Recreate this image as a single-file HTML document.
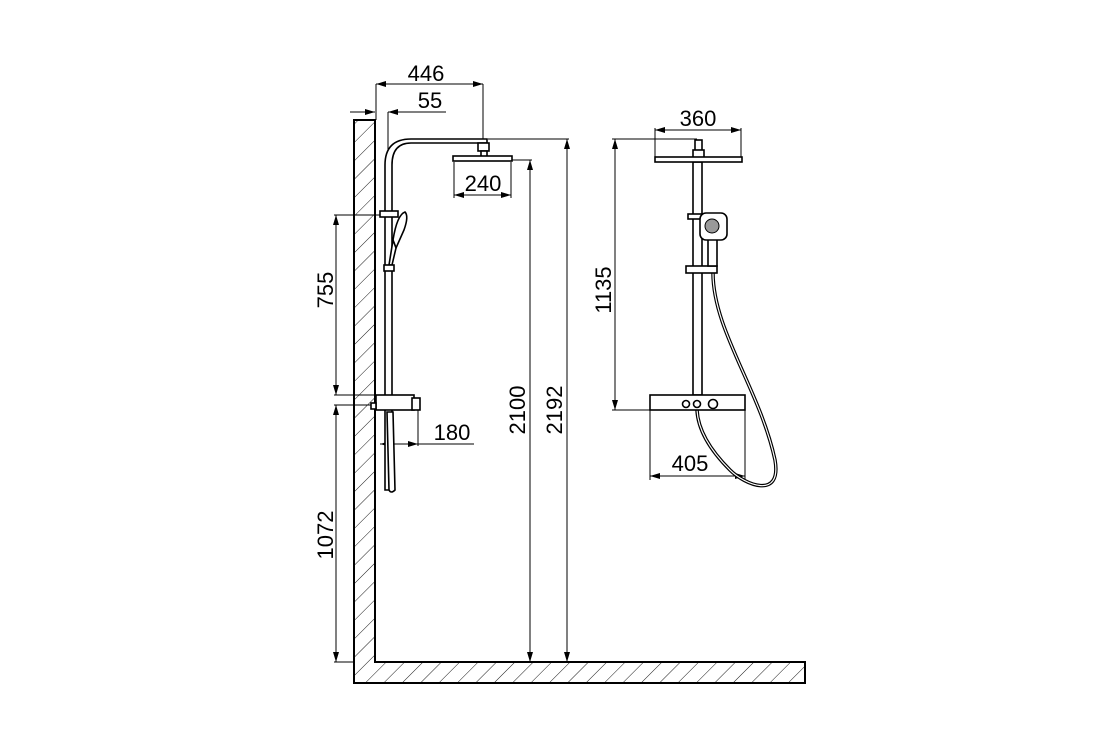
<!DOCTYPE html>
<html><head><style>body{margin:0;background:#fff}svg{display:block}</style></head><body>
<svg width="1120" height="750" viewBox="0 0 1120 750" xmlns="http://www.w3.org/2000/svg" font-family="Liberation Sans, sans-serif">
<defs>
<pattern id="h" patternUnits="userSpaceOnUse" width="13" height="13" patternTransform="rotate(45)">
<line x1="0" y1="0" x2="0" y2="13" stroke="#000" stroke-width="0.9"/>
</pattern>
<marker id="a" viewBox="0 0 10 6" refX="10" refY="3" markerWidth="10" markerHeight="6" orient="auto-start-reverse" markerUnits="userSpaceOnUse"><path d="M0,0L10,3L0,6z" fill="#000"/></marker>
</defs>
<path d="M354,120H375V662H805V683H354Z" fill="url(#h)" stroke="#000" stroke-width="2"/>
<g stroke="#000" stroke-width="1" fill="none">
<line x1="376" y1="84" x2="376" y2="120"/>
<line x1="376" y1="84" x2="483" y2="84" marker-start="url(#a)" marker-end="url(#a)"/>
<line x1="483" y1="84" x2="483" y2="140"/>
<line x1="388" y1="112" x2="388" y2="150"/>
<line x1="388" y1="112" x2="446" y2="112" marker-start="url(#a)"/>
<line x1="350" y1="112" x2="375" y2="112" marker-end="url(#a)"/>
<line x1="454" y1="162" x2="454" y2="198"/><line x1="511" y1="162" x2="511" y2="198"/>
<line x1="454" y1="195" x2="511" y2="195" marker-start="url(#a)" marker-end="url(#a)"/>
<line x1="512" y1="160" x2="532" y2="160"/>
<line x1="530" y1="160" x2="530" y2="662" marker-start="url(#a)" marker-end="url(#a)"/>
<line x1="488" y1="139" x2="569" y2="139"/>
<line x1="567" y1="139" x2="567" y2="662" marker-start="url(#a)" marker-end="url(#a)"/>
<line x1="334" y1="215" x2="388" y2="215"/>
<line x1="336" y1="215" x2="336" y2="395" marker-start="url(#a)" marker-end="url(#a)"/>
<line x1="334" y1="395" x2="378" y2="395"/>
<line x1="334" y1="405" x2="372" y2="405"/>
<line x1="336" y1="405" x2="336" y2="662" marker-start="url(#a)" marker-end="url(#a)"/>
<line x1="334" y1="662" x2="354" y2="662"/>
<line x1="418" y1="410" x2="418" y2="446"/>
<line x1="380" y1="444" x2="418" y2="444" marker-start="url(#a)" marker-end="url(#a)"/>
<line x1="418" y1="444" x2="474" y2="444"/>
</g>
<g stroke="#000" stroke-width="1.6" fill="#fff">
<path d="M385,490V165Q385,139 411,139H487V143H411Q392,143 392,165V490Z"/>
<rect x="478" y="143" width="11" height="8"/>
<rect x="481" y="151" width="6" height="6"/>
<rect x="453" y="156" width="59" height="5"/>
<rect x="380" y="211" width="18" height="6"/>
<path d="M393,240Q397,215 405,212Q409,216 404,230L396,248Z"/>
<path d="M389,265L393,240L396,248L392,265Z"/>
<rect x="384" y="265" width="10" height="6"/>
<rect x="376" y="395" width="38" height="15"/>
<rect x="412" y="398" width="8" height="12"/>
<rect x="371" y="403" width="5" height="6"/>
<path d="M387,412L393,412L395,490Q391,494 389,490Z"/>
</g>
<g stroke="#000" stroke-width="1" fill="none">
<line x1="655" y1="128" x2="655" y2="158"/><line x1="741" y1="128" x2="741" y2="158"/>
<line x1="655" y1="130" x2="741" y2="130" marker-start="url(#a)" marker-end="url(#a)"/>
<line x1="612" y1="139" x2="697" y2="139"/>
<line x1="615" y1="139" x2="615" y2="410" marker-start="url(#a)" marker-end="url(#a)"/>
<line x1="612" y1="410" x2="655" y2="410"/>
<line x1="650" y1="410" x2="650" y2="480"/><line x1="745" y1="410" x2="745" y2="480"/>
<line x1="650" y1="476" x2="745" y2="476" marker-start="url(#a)" marker-end="url(#a)"/>
</g>
<g stroke="#000" stroke-width="1.6" fill="#fff">
<path d="M713,273C713,330 760,390 775,460C782,500 745,485 730,470C710,450 698,430 697,410" fill="none" stroke-width="3.5"/>
<path d="M713,273C713,330 760,390 775,460C782,500 745,485 730,470C710,450 698,430 697,410" fill="none" stroke="#fff" stroke-width="1.2"/>
<rect x="693" y="162" width="9" height="233"/>
<rect x="695" y="140" width="7" height="12"/>
<rect x="693" y="150" width="11" height="8"/>
<rect x="655" y="157" width="87" height="5"/>
<rect x="688" y="214" width="14" height="5"/>
<rect x="686" y="266" width="31" height="7"/>
<rect x="708" y="238" width="9" height="28"/>
<rect x="700" y="213" width="27" height="27" rx="6"/>
<circle cx="712" cy="226" r="7" fill="#999" stroke-width="1"/>
<rect x="650" y="395" width="95" height="15"/>
<circle cx="686" cy="404" r="3.5"/><circle cx="697" cy="404" r="3.5"/><circle cx="713" cy="404" r="4.5"/>
</g>
<g font-size="22" fill="#000" text-anchor="middle">
<text x="426" y="81">446</text>
<text x="430" y="108">55</text>
<text x="483" y="191">240</text>
<text x="452" y="440">180</text>
<text x="698" y="126">360</text>
<text x="690" y="471">405</text>
<text transform="translate(333,290) rotate(-90)">755</text>
<text transform="translate(333,535) rotate(-90)">1072</text>
<text transform="translate(525,410) rotate(-90)">2100</text>
<text transform="translate(562,410) rotate(-90)">2192</text>
<text transform="translate(611,290) rotate(-90)">1135</text>
</g>
</svg>
</body></html>
